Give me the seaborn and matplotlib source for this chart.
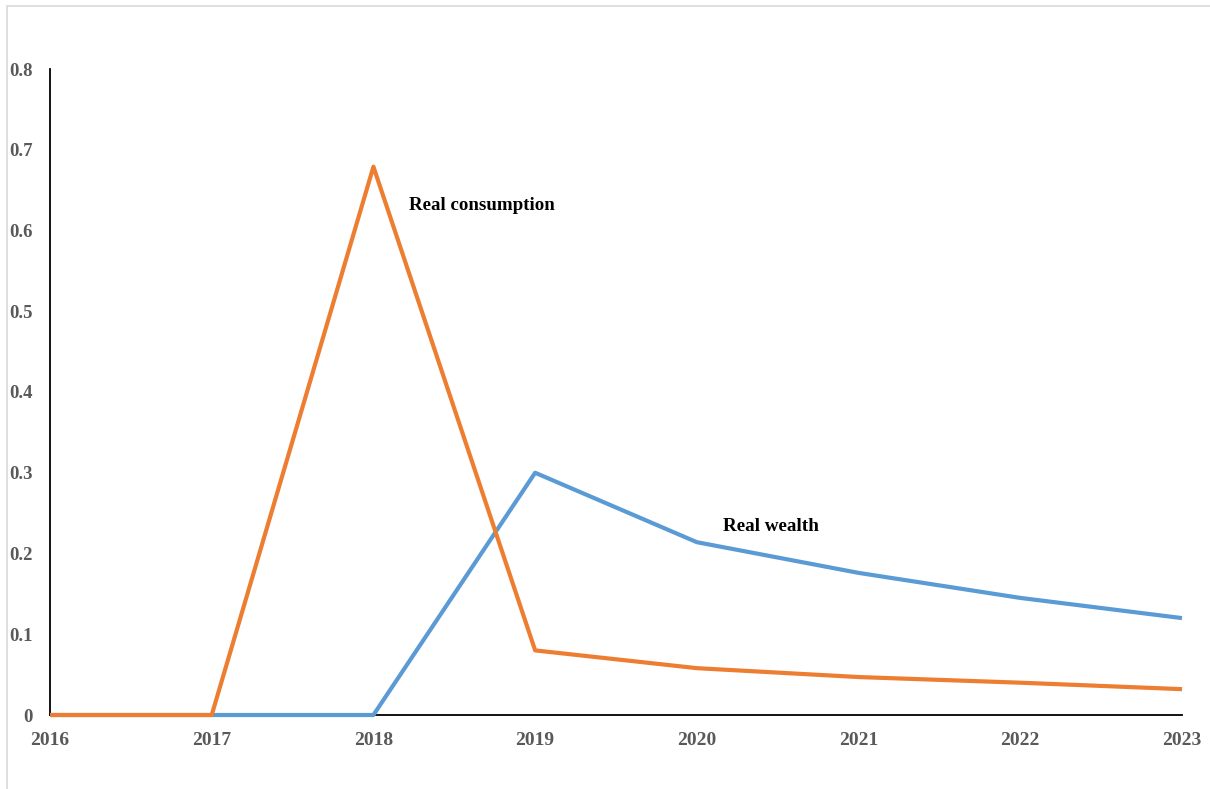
import matplotlib
matplotlib.use("Agg")
import matplotlib.pyplot as plt
from matplotlib.patches import Rectangle
import seaborn as sns
import pandas as pd

years = [2016, 2017, 2018, 2019, 2020, 2021, 2022, 2023]
real_wealth = [0.0, 0.0, 0.0, 0.30, 0.214, 0.176, 0.145, 0.120]
real_consumption = [0.0, 0.0, 0.679, 0.080, 0.058, 0.047, 0.040, 0.032]
y_ticks = [0, 0.1, 0.2, 0.3, 0.4, 0.5, 0.6, 0.7, 0.8]
y_tick_labels = ["0", "0.1", "0.2", "0.3", "0.4", "0.5", "0.6", "0.7", "0.8"]

df = pd.DataFrame({
    "year": years * 2,
    "value": real_wealth + real_consumption,
    "series": ["Real wealth"] * len(years) + ["Real consumption"] * len(years),
})

sns.set_style("white")
plt.rcParams["font.family"] = ["Liberation Serif", "DejaVu Serif"]

fig = plt.figure(figsize=(12.1, 7.89), dpi=100)
ax = fig.add_axes([50 / 1210, 74 / 789, 1132 / 1210, 646 / 789])

palette = {"Real wealth": "#5B9BD5", "Real consumption": "#ED7D31"}
sns.lineplot(data=df, x="year", y="value", hue="series", palette=palette,
             linewidth=3, ax=ax, legend=False, sort=False)
for line in ax.lines:
    line.set_clip_on(False)
    line.set_zorder(3)
    line.set_solid_capstyle("butt")

ax.set_xlim(2016, 2023)
ax.set_ylim(0, 0.8)
ax.set_xticks(years)
ax.set_xticklabels([str(y) for y in years])
ax.set_yticks(y_ticks)
ax.set_yticklabels(y_tick_labels)
ax.set_xlabel("")
ax.set_ylabel("")

for side in ["top", "right"]:
    ax.spines[side].set_visible(False)
for side in ["left", "bottom"]:
    ax.spines[side].set_color("black")
    ax.spines[side].set_linewidth(1.3)
    ax.spines[side].set_zorder(2)

ax.tick_params(axis="x", length=0, labelsize=14, labelcolor="#595959", pad=12)
ax.tick_params(axis="y", length=0, labelsize=13.5, labelcolor="#595959", pad=12.5)
for lbl in ax.get_xticklabels() + ax.get_yticklabels():
    lbl.set_fontweight("bold")

ax.text(2018.22, 0.631, "Real consumption", fontsize=13.6, fontweight="bold",
        color="black", va="center", ha="left")
ax.text(2020.16, 0.233, "Real wealth", fontsize=13.8, fontweight="bold",
        color="black", va="center", ha="left")

# light frame around the chart area
fig.patches.append(Rectangle((7 / 1210, -0.05), 1.1, (789 - 6) / 789 + 0.05,
                             transform=fig.transFigure, fill=False,
                             edgecolor="#D9D9D9", linewidth=1.2))

fig.savefig("out.png", dpi=100, facecolor="white")
